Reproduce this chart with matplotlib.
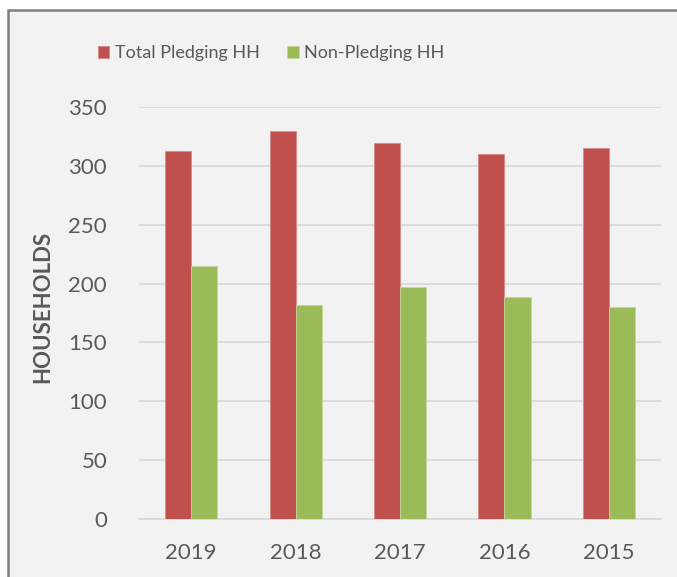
import numpy as np
from matplotlib import pyplot as plt
from matplotlib.patches import Rectangle

years = ["2019", "2018", "2017", "2016", "2015"]
total_pledging = [313, 330, 319, 310, 315]
non_pledging = [215, 182, 197, 189, 180]

RED = "#C0504D"
GREEN = "#9BBB59"
TEXT = "#595959"
GRID = "#D9D9D9"

plt.rcParams["font.family"] = ["Lato", "DejaVu Sans"]

W, H = 677, 577
fig = plt.figure(figsize=(W / 100, H / 100), dpi=100, facecolor="white")

# chart area frame (clipped on right and bottom like the screenshot)
fig.patches.append(Rectangle((8 / W, -0.05), 1.2, 1 - 10 / H + 0.05,
                             transform=fig.transFigure, facecolor="#F2F2F2",
                             edgecolor="#7F7F7F", linewidth=1.8, zorder=-10))

ax = fig.add_axes([139 / W, (H - 519) / H, (661 - 139) / W, (519 - 107) / H])
ax.set_facecolor("none")
ax.set_zorder(2)

x = np.arange(len(years))
width = 0.25
ax.bar(x - width / 2, total_pledging, width, color=RED, edgecolor="#D98A88",
       linewidth=0.6, label="Total Pledging HH", zorder=3)
ax.bar(x + width / 2, non_pledging, width, color=GREEN, edgecolor="#C3D69B",
       linewidth=0.6, label="Non-Pledging HH", zorder=3)

ax.set_xlim(-0.5, len(years) - 0.5)
ax.set_ylim(0, 350)
ax.set_yticks(range(0, 351, 50))
ax.set_xticks(x)
ax.set_xticklabels(years)
ax.yaxis.grid(True, color=GRID, linewidth=1.3, zorder=0)
ax.set_axisbelow(True)
for side in ["top", "right", "left"]:
    ax.spines[side].set_visible(False)
ax.spines["bottom"].set_color(GRID)
ax.spines["bottom"].set_linewidth(1.3)
ax.tick_params(axis="both", length=0, colors=TEXT, labelsize=16)
ax.tick_params(axis="y", pad=23)
ax.tick_params(axis="x", pad=17)

fig.text(43 / W, 1 - 307 / H, "HOUSEHOLDS", rotation=90, ha="center", va="center",
         fontsize=16, fontweight="bold", color=TEXT)

fig.legend(loc="center", bbox_to_anchor=(271 / W, 1 - 53 / H), ncol=2, frameon=False,
           fontsize=13, labelcolor=TEXT, handlelength=0.65, handleheight=0.65,
           handletextpad=0.3, columnspacing=1.5)

plt.savefig("out.png", dpi=100, facecolor="white")
